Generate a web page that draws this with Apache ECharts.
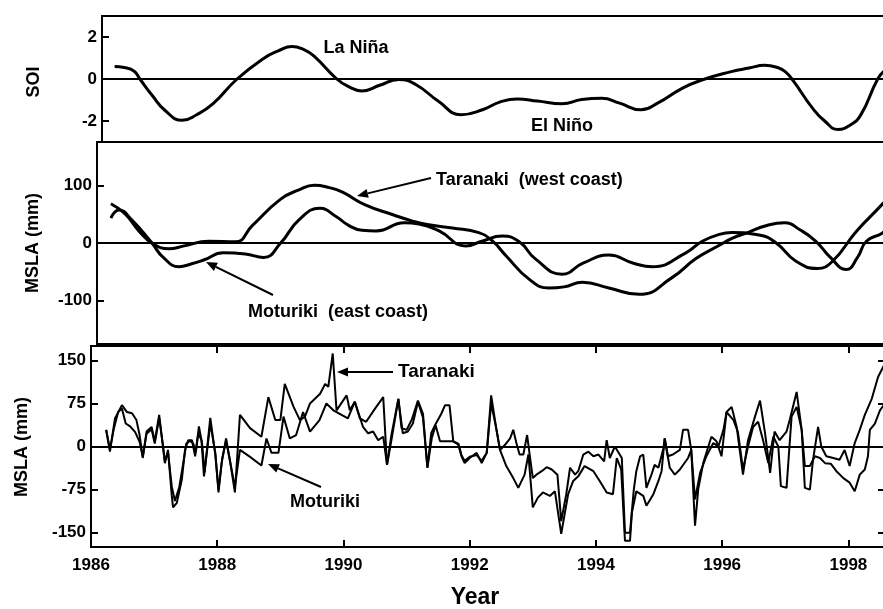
<!DOCTYPE html>
<html>
<head>
<meta charset="utf-8">
<script src="https://cdn.jsdelivr.net/npm/echarts@6/dist/echarts.min.js"></script>
<style>html,body{margin:0;padding:0;background:#fff}#c{width:883px;height:609px}</style>
</head>
<body>
<div id="c"></div>
<script>
// ---------- data (year, value) ----------
const soiIndex = [[1986.20,0.6],[1986.35,0.55],[1986.51,0.37],[1986.6,0.0],[1986.8,-0.8],[1987.0,-1.5],[1987.27,-1.97],[1987.5,-1.7],[1987.76,-1.17],[1988.14,0.0],[1988.56,0.98],[1988.8,1.35],[1989.01,1.55],[1989.2,1.4],[1989.36,1.09],[1989.72,0.0],[1989.9,-0.35],[1990.12,-0.57],[1990.4,-0.3],[1990.70,-0.02],[1990.97,-0.26],[1991.33,-1.06],[1991.69,-1.70],[1992.04,-1.45],[1992.3,-1.1],[1992.58,-0.95],[1992.9,-1.05],[1993.29,-1.18],[1993.6,-0.98],[1993.92,-0.92],[1994.2,-1.15],[1994.54,-1.47],[1994.81,-1.14],[1995.17,-0.48],[1995.48,-0.07],[1995.97,0.35],[1996.25,0.52],[1996.50,0.65],[1996.7,0.55],[1996.82,0.36],[1996.95,-0.08],[1997.26,-1.40],[1997.45,-2.0],[1997.66,-2.4],[1997.85,-2.2],[1998.02,-1.72],[1998.29,0.0],[1998.40,0.4]];

const taranakiSmooth = [[1986.22,68],[1986.45,50],[1986.67,20],[1986.87,0],[1987.14,-10],[1987.38,-5],[1987.77,3],[1988.19,2],[1988.46,30],[1988.91,76],[1989.20,92],[1989.44,100],[1989.68,96],[1989.89,88],[1990.25,66],[1990.69,49],[1991.0,38],[1991.23,32],[1991.63,26],[1992.05,18],[1992.26,4],[1992.48,-22],[1992.85,-63],[1993.16,-78],[1993.4,-76],[1993.69,-68],[1994.11,-78],[1994.59,-89],[1995.11,-60],[1995.49,-27],[1995.86,-4],[1996.06,8],[1996.33,19],[1996.6,30],[1996.89,35],[1997.15,22],[1997.39,3],[1997.62,-25],[1997.87,-46],[1998.05,-25],[1998.19,3],[1998.44,17],[1998.58,30]];

const moturikiSmooth = [[1986.22,43],[1986.35,57],[1986.55,40],[1986.87,0],[1987.05,-25],[1987.3,-41],[1987.5,-36],[1987.7,-29],[1988.0,-17],[1988.35,-19],[1988.64,-25],[1988.91,0],[1989.2,40],[1989.53,60],[1989.8,45],[1989.98,31],[1990.2,22],[1990.42,21],[1990.87,35],[1991.10,33],[1991.42,21],[1991.84,-5],[1992.1,3],[1992.42,12],[1992.69,2],[1992.95,-28],[1993.37,-54],[1993.7,-35],[1994.11,-21],[1994.5,-35],[1994.80,-41],[1995.33,-17],[1995.59,3],[1995.86,15],[1996.06,18],[1996.49,14],[1996.76,0],[1997.08,-32],[1997.41,-44],[1997.65,-32],[1998.03,20],[1998.44,67],[1998.58,85]];

const taranakiMonthly = [[1986.24,29],[1986.30,-9],[1986.38,49],[1986.49,72],[1986.57,60],[1986.65,58],[1986.72,46],[1986.77,20],[1986.82,-20],[1986.88,26],[1986.96,34],[1987.01,9],[1987.08,55],[1987.14,0],[1987.17,-29],[1987.22,-6],[1987.28,-86],[1987.30,-106],[1987.36,-98],[1987.44,-57],[1987.49,-6],[1987.54,11],[1987.60,11],[1987.65,-17],[1987.70,23],[1987.75,11],[1987.79,-52],[1987.89,40],[1987.97,-11],[1988.02,-80],[1988.07,-29],[1988.14,14],[1988.20,-23],[1988.28,-80],[1988.36,55],[1988.52,32],[1988.70,17],[1988.81,86],[1988.92,46],[1989.00,46],[1989.07,109],[1989.21,69],[1989.31,46],[1989.39,52],[1989.47,75],[1989.63,92],[1989.71,109],[1989.76,104],[1989.83,162],[1989.89,63],[1990.05,89],[1990.10,63],[1990.18,78],[1990.26,49],[1990.36,43],[1990.50,66],[1990.63,86],[1990.69,-32],[1990.76,11],[1990.87,83],[1990.92,32],[1991.00,29],[1991.08,46],[1991.18,80],[1991.26,57],[1991.33,-37],[1991.39,23],[1991.45,37],[1991.55,57],[1991.61,72],[1991.68,72],[1991.74,9],[1991.82,3],[1991.87,-17],[1991.92,-29],[1992.00,-20],[1992.11,-11],[1992.19,-29],[1992.27,-11],[1992.34,89],[1992.42,32],[1992.48,-6],[1992.58,-34],[1992.69,-55],[1992.77,-72],[1992.87,-49],[1992.93,-14],[1993.00,-106],[1993.08,-89],[1993.16,-80],[1993.27,-86],[1993.35,-78],[1993.45,-152],[1993.56,-83],[1993.64,-60],[1993.72,-52],[1993.82,-34],[1993.96,-43],[1994.06,-60],[1994.17,-80],[1994.27,-83],[1994.33,-20],[1994.40,-40],[1994.46,-164],[1994.54,-164],[1994.57,-115],[1994.64,-78],[1994.75,-86],[1994.80,-103],[1994.91,-83],[1994.99,-60],[1995.04,-43],[1995.09,14],[1995.17,-37],[1995.25,-49],[1995.33,-40],[1995.46,-20],[1995.51,-6],[1995.57,-92],[1995.65,-46],[1995.75,-17],[1995.86,6],[1995.94,0],[1996.02,29],[1996.07,60],[1996.18,46],[1996.25,25],[1996.33,-40],[1996.41,0],[1996.49,34],[1996.57,43],[1996.65,10],[1996.73,-29],[1996.81,17],[1996.89,0],[1996.93,-69],[1997.02,-72],[1997.10,52],[1997.18,69],[1997.26,29],[1997.31,-34],[1997.39,-34],[1997.47,-17],[1997.55,-20],[1997.63,-29],[1997.72,-30],[1997.81,-43],[1997.92,-55],[1998.02,-63],[1998.10,-78],[1998.18,-49],[1998.26,-40],[1998.31,-17],[1998.34,29],[1998.42,40],[1998.50,63],[1998.58,75]];

const moturikiMonthly = [[1986.24,29],[1986.30,-5],[1986.36,30],[1986.43,60],[1986.49,66],[1986.55,40],[1986.62,35],[1986.70,25],[1986.77,8],[1986.82,-18],[1986.88,22],[1986.96,30],[1987.01,5],[1987.08,50],[1987.14,2],[1987.17,-25],[1987.22,-10],[1987.28,-70],[1987.33,-95],[1987.40,-70],[1987.46,-30],[1987.51,5],[1987.57,10],[1987.62,5],[1987.66,-10],[1987.71,35],[1987.76,5],[1987.80,-45],[1987.89,50],[1987.97,-15],[1988.02,-75],[1988.08,-20],[1988.14,10],[1988.21,-30],[1988.28,-70],[1988.36,-6],[1988.52,-18],[1988.70,-33],[1988.78,14],[1988.86,-11],[1988.97,-11],[1989.05,52],[1989.15,14],[1989.25,20],[1989.36,60],[1989.47,26],[1989.62,46],[1989.73,75],[1989.84,63],[1989.97,55],[1990.07,49],[1990.18,78],[1990.31,34],[1990.39,23],[1990.47,26],[1990.55,11],[1990.63,17],[1990.69,-32],[1990.76,20],[1990.87,83],[1990.94,23],[1991.02,26],[1991.10,40],[1991.18,78],[1991.26,50],[1991.33,-37],[1991.40,15],[1991.46,37],[1991.53,9],[1991.63,9],[1991.74,9],[1991.82,5],[1991.87,-15],[1991.92,-25],[1992.00,-18],[1992.11,-15],[1992.19,-25],[1992.27,-11],[1992.34,75],[1992.42,32],[1992.48,-6],[1992.56,3],[1992.64,14],[1992.69,29],[1992.74,6],[1992.79,-14],[1992.85,-14],[1992.91,20],[1992.95,-14],[1993.00,-55],[1993.07,-48],[1993.14,-43],[1993.22,-36],[1993.30,-40],[1993.39,-49],[1993.45,-130],[1993.53,-83],[1993.59,-37],[1993.67,-49],[1993.72,-43],[1993.80,-14],[1993.88,-9],[1993.96,-17],[1994.04,-14],[1994.13,-26],[1994.17,11],[1994.22,-20],[1994.30,0],[1994.35,-9],[1994.41,-20],[1994.46,-150],[1994.54,-150],[1994.60,-75],[1994.64,-43],[1994.70,-17],[1994.75,-14],[1994.80,-72],[1994.88,-49],[1994.93,-32],[1994.99,-37],[1995.07,-3],[1995.09,14],[1995.14,-17],[1995.22,-14],[1995.33,-6],[1995.38,29],[1995.46,29],[1995.51,-6],[1995.57,-138],[1995.62,-75],[1995.70,-29],[1995.75,-11],[1995.83,17],[1995.91,9],[1995.99,-17],[1996.07,60],[1996.15,69],[1996.23,34],[1996.33,-49],[1996.41,11],[1996.52,52],[1996.60,80],[1996.68,23],[1996.76,-46],[1996.83,26],[1996.91,11],[1997.02,26],[1997.07,46],[1997.18,95],[1997.26,29],[1997.31,-72],[1997.39,-75],[1997.44,-23],[1997.52,34],[1997.57,0],[1997.65,-17],[1997.76,-20],[1997.86,-23],[1997.94,-6],[1998.02,-34],[1998.10,6],[1998.18,29],[1998.26,55],[1998.37,83],[1998.47,121],[1998.58,145]];

// ---------- tick labels ----------
const yearTicks = [1986, 1988, 1990, 1992, 1994, 1996, 1998];
const soiTicks = [-2, 0, 2];
const mslaSmoothTicks = [-100, 0, 100];
const mslaMonthlyTicks = [-150, -75, 0, 75, 150];

// ---------- chart ----------
const FONT = '"Liberation Sans", Arial, sans-serif';
const chart = echarts.init(document.getElementById('c'), null, {renderer: 'canvas'});
const X_MIN = 1986, X_MAX = 1998.58;
const PLOT_W = 794;
const plain = function (v) { return String(v); };

function xAx(grid, pos, labels, ticks) {
  return {
    type: 'value', gridIndex: grid, position: pos, min: X_MIN, max: X_MAX,
    axisLine: {show: false, onZero: false}, splitLine: {show: false},
    axisTick: {show: ticks, inside: true, length: 7, customValues: yearTicks, lineStyle: {color: '#000', width: 2}},
    axisLabel: {show: labels, customValues: yearTicks, formatter: plain, margin: 10, color: '#000', fontSize: 17, fontWeight: 'bold', fontFamily: FONT}
  };
}
function yAx(grid, pos, min, max, ticks, labels) {
  return {
    type: 'value', gridIndex: grid, position: pos, min: min, max: max,
    axisLine: {show: false, onZero: false}, splitLine: {show: false},
    axisTick: {show: true, inside: true, length: 7, customValues: ticks, lineStyle: {color: '#000', width: 2}},
    axisLabel: {show: labels, customValues: ticks, formatter: plain, margin: 5, color: '#000', fontSize: 17, fontWeight: 'bold', fontFamily: FONT}
  };
}
const zeroLine = {
  silent: true, symbol: ['none', 'none'], label: {show: false},
  lineStyle: {color: '#000', width: 2, type: 'solid'},
  data: [{yAxis: 0}]
};
function line(name, data, xi, yi, width, smooth, mark) {
  const s = {
    name: name, type: 'line', data: data, xAxisIndex: xi, yAxisIndex: yi,
    symbol: 'none', smooth: smooth, lineStyle: {color: '#000', width: width},
    animation: false
  };
  if (mark) s.markLine = zeroLine;
  return s;
}
function arrow(x1, y1, x2, y2) {
  const a = Math.atan2(y2 - y1, x2 - x1), L = 11, Wd = 4.5;
  const c = Math.cos(a), s = Math.sin(a);
  const bx = x2 - L * c, by = y2 - L * s;
  return [
    {type: 'line', shape: {x1: x1, y1: y1, x2: bx, y2: by}, style: {stroke: '#000', lineWidth: 2}},
    {type: 'polygon', shape: {points: [[x2, y2], [bx + Wd * s, by - Wd * c], [bx - Wd * s, by + Wd * c]]}, style: {fill: '#000'}}
  ];
}
function label(text, x, y, size, align) {
  return {type: 'text', x: x, y: y, style: {text: text, fill: '#000', font: 'bold ' + size + 'px ' + FONT, align: align || 'left', verticalAlign: 'middle'}};
}
function vlabel(text, x, y, size) {
  return {type: 'text', x: x, y: y, rotation: Math.PI / 2, style: {text: text, fill: '#000', font: 'bold ' + size + 'px ' + FONT, align: 'center', verticalAlign: 'middle'}};
}

const gridStyle = {show: true, borderColor: '#000', borderWidth: 2, backgroundColor: 'transparent', outerBoundsMode: 'none', containLabel: false};
const option = {
  animation: false,
  backgroundColor: '#fff',
  grid: [
    Object.assign({left: 102, top: 16, width: PLOT_W, height: 126}, gridStyle),
    Object.assign({left: 97, top: 142, width: PLOT_W, height: 202}, gridStyle),
    Object.assign({left: 91, top: 346, width: PLOT_W, height: 201}, gridStyle)
  ],
  xAxis: [
    xAx(0, 'bottom', false, false),
    xAx(1, 'bottom', false, false),
    xAx(2, 'bottom', true, true),
    xAx(2, 'top', false, true)
  ],
  yAxis: [
    yAx(0, 'left', -3, 3, soiTicks, true),
    yAx(1, 'left', -175, 175, mslaSmoothTicks, true),
    yAx(2, 'left', -175, 175, mslaMonthlyTicks, true),
    yAx(0, 'right', -3, 3, soiTicks, false),
    yAx(1, 'right', -175, 175, mslaSmoothTicks, false),
    yAx(2, 'right', -175, 175, mslaMonthlyTicks, false)
  ],
  series: [
    line('SOI', soiIndex, 0, 0, 3, 0.5, true),
    line('Taranaki (smoothed)', taranakiSmooth, 1, 1, 3, 0.5, true),
    line('Moturiki (smoothed)', moturikiSmooth, 1, 1, 3, 0.5, false),
    line('Taranaki', taranakiMonthly, 2, 2, 2, false, true),
    line('Moturiki', moturikiMonthly, 2, 2, 2, false, false)
  ],
  graphic: [].concat(
    [
      label('La Niña', 356, 48, 18, 'center'),
      label('El Niño', 562, 126, 18, 'center'),
      label('Taranaki  (west coast)', 436, 180, 18),
      label('Moturiki  (east coast)', 248, 312, 18),
      label('Taranaki', 398, 372, 19),
      label('Moturiki', 290, 502, 18),
      vlabel('SOI', 34, 82, 18),
      vlabel('MSLA (mm)', 33, 243, 18),
      vlabel('MSLA (mm)', 22, 447, 18),
      label('Year', 475, 598, 23, 'center')
    ],
    arrow(431, 178, 357, 196),
    arrow(273, 295, 206, 262),
    arrow(393, 372, 337, 372),
    arrow(321, 487, 268, 464)
  )
};
chart.setOption(option);
</script>
</body>
</html>
